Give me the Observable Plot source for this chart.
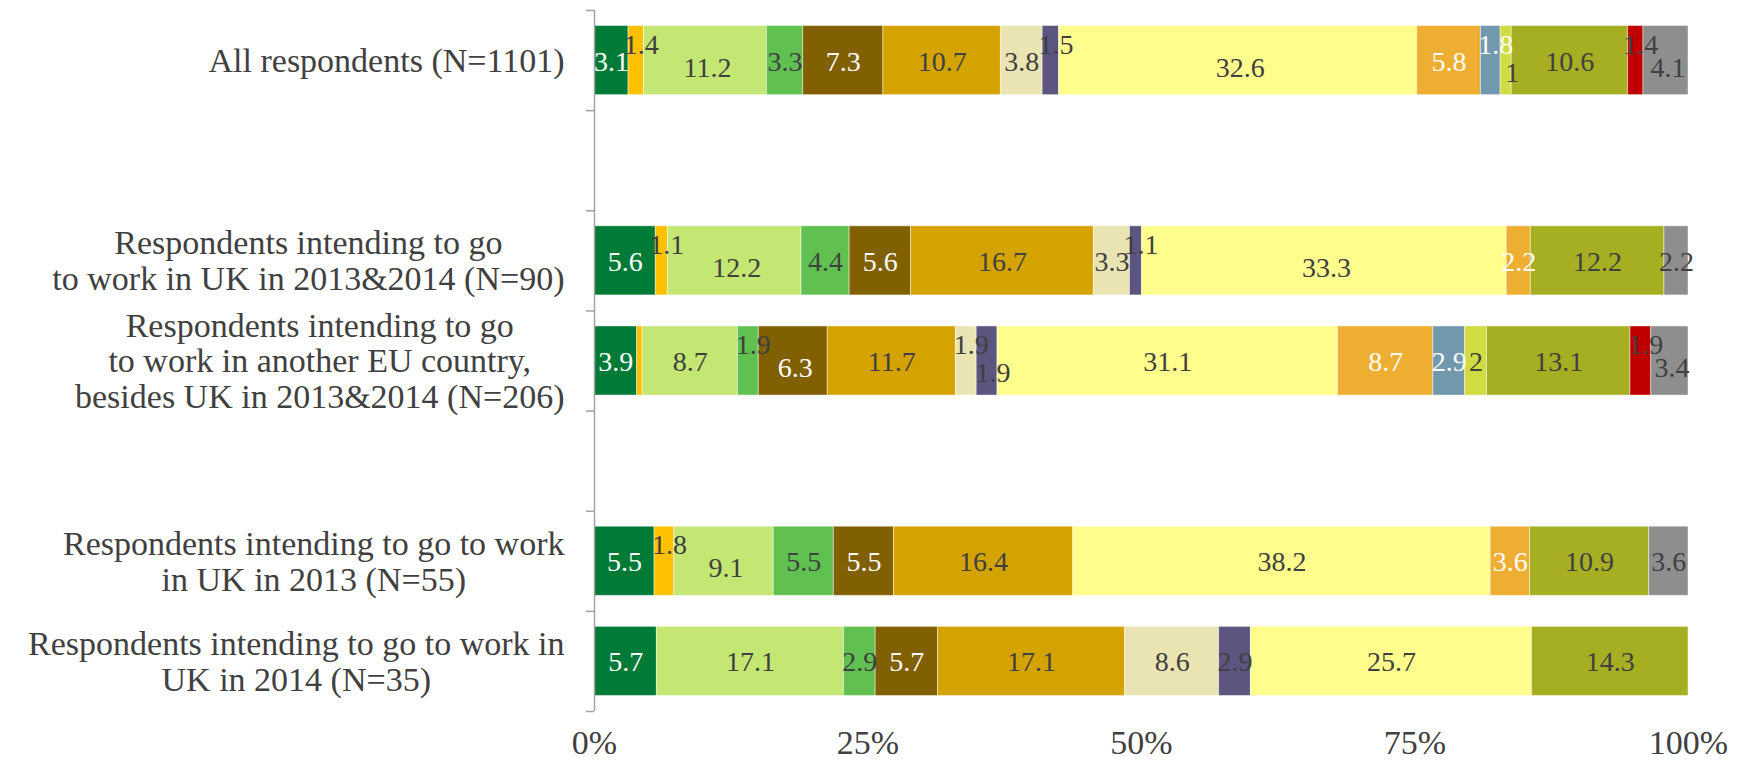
<!DOCTYPE html>
<html>
<head>
<meta charset="utf-8">
<script src="https://cdn.jsdelivr.net/npm/d3@7"></script>
<script src="https://cdn.jsdelivr.net/npm/@observablehq/plot@0.6"></script>
<style>
  html, body { margin: 0; padding: 0; background: #ffffff; }
</style>
</head>
<body>
<div id="chart"></div>
<script>
// Categories (rows); the two blank entries are the empty slots of the original chart
const rows = [
  "All respondents (N=1101)",
  "",
  "Respondents intending to go\nto work in UK in 2013&2014 (N=90)",
  "Respondents intending to go\nto work in another EU country,\nbesides UK in 2013&2014 (N=206)",
  " ",
  "Respondents intending to go to work\nin UK in 2013 (N=55)",
  "Respondents intending to go to work in\nUK in 2014 (N=35)"
];

// Answer series (legend not visible in the picture)
const answers = [
  "Answer 1", "Answer 2", "Answer 3", "Answer 4", "Answer 5",
  "Answer 6", "Answer 7", "Answer 8", "Answer 9", "Answer 10",
  "Answer 11", "Answer 12", "Answer 13", "Answer 14", "Answer 15"
];
const answerColors = [
  "#007a37", "#ffc000", "#c4e673", "#60c150", "#806000",
  "#d5a300", "#eae4b2", "#5b557f", "#fffd8c", "#eeae31",
  "#7298ad", "#d0dc42", "#a6af22", "#c00000", "#8e8e8e"
];
const whiteLabelAnswers = ["Answer 1", "Answer 5", "Answer 10", "Answer 11"];

// Values (%) per row, in answer order
const allRespondents = [3.1, 1.4, 11.2, 3.3, 7.3, 10.7, 3.8, 1.5, 32.6, 5.8, 1.8, 1, 10.6, 1.4, 4.1];
const ukBothYears    = [5.6, 1.1, 12.2, 4.4, 5.6, 16.7, 3.3, 1.1, 33.3, 2.2, 0, 0, 12.2, 0, 2.2];
const otherEU        = [3.9, 0.5, 8.7, 1.9, 6.3, 11.7, 1.9, 1.9, 31.1, 8.7, 2.9, 2, 13.1, 1.9, 3.4];
const uk2013         = [5.5, 1.8, 9.1, 5.5, 5.5, 16.4, 0, 0, 38.2, 3.6, 0, 0, 10.9, 0, 3.6];
const uk2014         = [5.7, 0, 17.1, 2.9, 5.7, 17.1, 8.6, 2.9, 25.7, 0, 0, 0, 14.3, 0, 0];

const xTicks = [0, 0.25, 0.5, 0.75, 1];

// Build table; narrow segments get their label nudged up (or down, if the previous one went up),
// and the label right after a raised one sits a little lower
const rowValues = [
  [rows[0], allRespondents],
  [rows[2], ukBothYears],
  [rows[3], otherEU],
  [rows[5], uk2013],
  [rows[6], uk2014]
];
const data = [];
for (const [row, vals] of rowValues) {
  let prevUp = false;
  vals.forEach((v, j) => {
    if (!(v > 0)) return;
    const shown = v >= 1;
    const small = shown && v < 2;
    const nudge = small ? (prevUp ? "down" : "up") : (prevUp && shown ? "after" : "none");
    if (shown) prevUp = nudge === "up";
    data.push({row, answer: answers[j], value: v, shown, nudge});
  });
}
const colorOf = new Map(answers.map((a, i) => [a, answerColors[i]]));

const W = 1745, H = 770;
const mTop = 10, mBottom = 59, mLeft = 594, mRight = 57;
const step = (H - mTop - mBottom) / rows.length;
const textColor = "#404040";
const axisColor = "#a3a3a3";
const nudgeDy = {none: 1, up: -16, down: 12, after: 7};
const nudgeDx = {none: 0, up: 5, down: 6, after: 2};

function labelMark(white, nudge) {
  return Plot.text(data, Plot.stackX({
    x: "value", y: "row", z: "answer", offset: "normalize",
    text: d => (d.shown && whiteLabelAnswers.includes(d.answer) === white && d.nudge === nudge) ? String(d.value) : "",
    fill: white ? "#ffffff" : textColor,
    fontSize: 28,
    dx: nudgeDx[nudge],
    dy: nudgeDy[nudge]
  }));
}

const svg = Plot.plot({
  width: W, height: H,
  marginTop: mTop, marginBottom: mBottom, marginLeft: mLeft, marginRight: mRight,
  style: {fontFamily: "'Liberation Serif', 'Times New Roman', serif", fontSize: "34px", color: textColor, background: "#ffffff"},
  x: {domain: [0, 1]},
  y: {domain: rows, paddingInner: 0.31, paddingOuter: 0.155, align: 0.5, round: false},
  color: {type: "identity"},
  marks: [
    Plot.barX(data, Plot.stackX({
      x: "value", y: "row", z: "answer", offset: "normalize",
      fill: d => colorOf.get(d.answer),
      stroke: "#ffffff", strokeOpacity: 0.45, strokeWidth: 1
    })),
    Plot.ruleX([0], {stroke: axisColor, strokeWidth: 1.5}),
    Plot.ruleY(rows, {y: d => d, x1: 0, x2: 0, insetLeft: -8, dy: -step / 2, stroke: axisColor, strokeWidth: 1.5}),
    Plot.ruleY([rows[rows.length - 1]], {y: d => d, x1: 0, x2: 0, insetLeft: -8, dy: step / 2, stroke: axisColor, strokeWidth: 1.5}),
    ...["none", "after", "up", "down"].flatMap(n => [labelMark(false, n), labelMark(true, n)]),
    Plot.axisX({ticks: xTicks, tickFormat: d3.format(".0%"), tickSize: 0, tickPadding: 18, label: null}),
    Plot.axisY({tickSize: 0, tickPadding: 30, label: null, lineHeight: 1.05, tickFormat: d => d.trim()})
  ]
});
document.getElementById("chart").append(svg);

// centre the lines of each multi-line category label (as in the original)
svg.querySelectorAll('g[aria-label="y-axis tick label"] text').forEach(t => {
  const w = t.getBBox().width;
  if (!w) return;
  t.setAttribute("text-anchor", "middle");
  const tr = t.getAttribute("transform") || "";
  t.setAttribute("transform", `${tr} translate(${-w / 2},0)`);
});
</script>
</body>
</html>
